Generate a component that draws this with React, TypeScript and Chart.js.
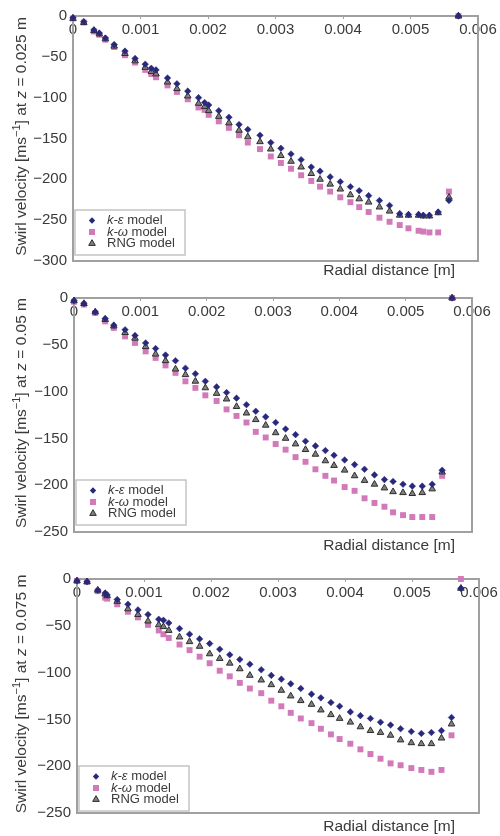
import React, { useEffect, useRef } from 'react';
import { Chart, registerables } from 'chart.js';

Chart.register(...registerables);

const FONT = "'Liberation Sans', Arial, Helvetica, sans-serif";

// ---------- Panel 1: z = 0.025 m ----------
const radial025 = [0, 0.00016, 0.00031, 0.00039, 0.00048, 0.00061, 0.00077, 0.00092, 0.00107, 0.00116, 0.00123, 0.0014, 0.00154, 0.0017, 0.00186, 0.00195, 0.00201, 0.00216, 0.00231, 0.00246, 0.00259, 0.00277, 0.00293, 0.00308, 0.00323, 0.00338, 0.00353, 0.00366, 0.00381, 0.00396, 0.00411, 0.00424, 0.00438, 0.00454, 0.00469, 0.00484, 0.00497, 0.00512, 0.00519, 0.00528, 0.00541, 0.00557, 0.00571];
const kEps025 = [-2, -7, -17, -21, -27, -35, -43, -52, -59, -64, -66, -76, -83, -92, -100, -106, -109, -116, -124, -133, -139, -146, -155, -162, -169, -176, -185, -190, -197, -203, -209, -214, -220, -226, -232, -242, -243, -243, -244, -244, -240, -226, 0];
const kOmega025 = [-3, -8, -19, -23, -29, -38, -48, -57, -66, -71, -75, -85, -93, -102, -112, -115, -121, -129, -137, -146, -155, -163, -172, -180, -187, -195, -202, -209, -215, -222, -228, -234, -240, -247, -252, -256, -260, -263, -264, -265, -265, -215, 0];
const rng025 = [-3, -8, -18, -22, -28, -37, -46, -55, -63, -68, -71, -81, -89, -98, -107, -111, -116, -123, -131, -140, -148, -154, -163, -171, -178, -185, -193, -200, -206, -212, -219, -224, -228, -234, -239, -244, -244, -244, -245, -245, -241, -222, 0];

// ---------- Panel 2: z = 0.05 m ----------
const radial050 = [0, 0.00015, 0.00032, 0.00047, 0.0006, 0.00077, 0.00092, 0.00108, 0.00123, 0.00138, 0.00153, 0.00168, 0.00183, 0.00198, 0.00215, 0.0023, 0.00245, 0.0026, 0.00274, 0.00289, 0.00304, 0.00319, 0.00334, 0.00349, 0.00364, 0.00379, 0.00392, 0.00408, 0.00423, 0.00438, 0.00453, 0.00468, 0.00481, 0.00496, 0.0051, 0.00525, 0.0054, 0.00555, 0.0057];
const kEps050 = [-3, -6, -15, -22, -29, -34, -40, -48, -54, -61, -67, -75, -81, -89, -95, -101, -107, -114, -121, -127, -133, -140, -146, -153, -158, -163, -168, -173, -178, -183, -189, -194, -196, -199, -201, -201, -199, -184, 0];
const kOmega050 = [-4, -7, -16, -25, -32, -41, -48, -57, -64, -72, -80, -89, -96, -104, -110, -119, -126, -133, -143, -149, -156, -162, -170, -175, -183, -190, -195, -202, -206, -214, -219, -223, -229, -232, -234, -234, -234, -190, 0];
const rng050 = [-3, -6, -15, -23, -30, -37, -43, -52, -60, -67, -76, -82, -89, -96, -102, -108, -116, -123, -130, -136, -144, -150, -156, -162, -167, -174, -179, -184, -190, -195, -199, -203, -207, -208, -209, -208, -204, -186, 0];

// ---------- Panel 3: z = 0.075 m ----------
const radial075 = [0, 0.00015, 0.00031, 0.00042, 0.00045, 0.0006, 0.00076, 0.00091, 0.00106, 0.00122, 0.00129, 0.00137, 0.00153, 0.00168, 0.00183, 0.00198, 0.00213, 0.00228, 0.00243, 0.00258, 0.00275, 0.0029, 0.00305, 0.00319, 0.00334, 0.0035, 0.00364, 0.00379, 0.00392, 0.00408, 0.00423, 0.00438, 0.00453, 0.00468, 0.00483, 0.00499, 0.00514, 0.00529, 0.00544, 0.00559, 0.00573];
const kEps075 = [-2, -3, -12, -15, -17, -22, -27, -33, -38, -43, -44, -47, -53, -59, -64, -69, -75, -81, -86, -91, -97, -103, -107, -112, -117, -123, -127, -132, -136, -142, -146, -149, -153, -156, -160, -163, -165, -164, -162, -148, -10];
const kOmega075 = [-2, -3, -13, -20, -21, -27, -35, -41, -49, -55, -59, -63, -70, -76, -83, -90, -98, -104, -111, -117, -122, -130, -136, -143, -149, -154, -160, -166, -171, -176, -182, -187, -192, -197, -199, -202, -204, -206, -204, -167, 0];
const rng075 = [-2, -3, -12, -16, -18, -24, -32, -38, -45, -49, -51, -55, -62, -67, -72, -80, -85, -90, -96, -103, -108, -113, -119, -125, -130, -134, -140, -145, -149, -153, -158, -162, -164, -167, -172, -175, -176, -176, -170, -155, -10];

// ---------- Text ----------
const xTickLabels = ['0', '0.001', '0.002', '0.003', '0.004', '0.005', '0.006'];
const seriesNames = ['k-ε model', 'k-ω model', 'RNG model'];
const zValues = ['0.025', '0.05', '0.075'];
const xTitle = 'Radial distance [m]';

const COLORS = {
  eps: '#28287c',
  omega: '#d27ab9',
  rngFill: '#808080',
  rngBorder: '#2c2c2c',
  frame: '#a0a0a0',
  text: '#3a3a3a',
};

type Part = { t: string; s?: 'i' | 'sup' };

function partFont(p: Part, size: number) {
  if (p.s === 'i') return `italic ${size}px ${FONT}`;
  if (p.s === 'sup') return `${Math.round(size * 0.68)}px ${FONT}`;
  return `${size}px ${FONT}`;
}

function drawParts(ctx: CanvasRenderingContext2D, parts: Part[], x: number, y: number, size: number, align: 'left' | 'center' | 'right') {
  let w = 0;
  parts.forEach((p) => {
    ctx.font = partFont(p, size);
    w += ctx.measureText(p.t).width;
  });
  let cx = align === 'left' ? x : align === 'center' ? x - w / 2 : x - w;
  ctx.textAlign = 'left';
  parts.forEach((p) => {
    ctx.font = partFont(p, size);
    const dy = p.s === 'sup' ? -size * 0.33 : 0;
    ctx.fillText(p.t, cx, y + dy);
    cx += ctx.measureText(p.t).width;
  });
}

function legendParts(name: string): Part[] {
  const idx = name.indexOf(' model');
  const head = name.slice(0, idx);
  if (head.startsWith('k')) return [{ t: head, s: 'i' }, { t: name.slice(idx) }];
  return [{ t: name }];
}

function drawMarker(ctx: CanvasRenderingContext2D, kind: number, x: number, y: number) {
  ctx.save();
  ctx.beginPath();
  if (kind === 0) {
    const r = 3.2;
    ctx.moveTo(x, y - r);
    ctx.lineTo(x + r, y);
    ctx.lineTo(x, y + r);
    ctx.lineTo(x - r, y);
    ctx.closePath();
    ctx.fillStyle = COLORS.eps;
    ctx.fill();
  } else if (kind === 1) {
    ctx.rect(x - 3, y - 3, 6, 6);
    ctx.fillStyle = COLORS.omega;
    ctx.fill();
  } else {
    const r = 3.8;
    ctx.moveTo(x, y - r);
    ctx.lineTo(x + r * 0.866, y + r * 0.5);
    ctx.lineTo(x - r * 0.866, y + r * 0.5);
    ctx.closePath();
    ctx.fillStyle = COLORS.rngFill;
    ctx.fill();
    ctx.lineWidth = 1;
    ctx.strokeStyle = COLORS.rngBorder;
    ctx.stroke();
  }
  ctx.restore();
}

type PanelCfg = {
  top: number;
  height: number;
  left: number;
  padTop: number;
  padRight: number;
  padBottom: number;
  yMin: number;
  xs: number[];
  eps: number[];
  omega: number[];
  rng: number[];
  z: string;
  xTitleDy: number;
  legendDy: number;
};

const panels: PanelCfg[] = [
  { top: 0, height: 283, left: 73, padTop: 16, padRight: 22, padBottom: 22, yMin: -300, xs: radial025, eps: kEps025, omega: kOmega025, rng: rng025, z: zValues[0], xTitleDy: 10, legendDy: 6 },
  { top: 283, height: 272, left: 74, padTop: 12, padRight: 28, padBottom: 23, yMin: -250, xs: radial050, eps: kEps050, omega: kOmega050, rng: rng050, z: zValues[1], xTitleDy: 14, legendDy: 7 },
  { top: 555, height: 281, left: 77, padTop: 24, padRight: 21, padBottom: 23, yMin: -250, xs: radial075, eps: kEps075, omega: kOmega075, rng: rng075, z: zValues[2], xTitleDy: 14, legendDy: 2 },
];

function Panel({ cfg }: { cfg: PanelCfg }) {
  const ref = useRef<HTMLCanvasElement>(null);

  useEffect(() => {
    const canvas = ref.current;
    if (!canvas) return;
    const toPts = (ys: number[]) => cfg.xs.map((x, i) => ({ x, y: ys[i] }));

    const decor = {
      id: 'decor',
      beforeDatasetsDraw(chart: any) {
        const { ctx, chartArea: a } = chart;
        ctx.save();
        ctx.strokeStyle = COLORS.frame;
        ctx.lineWidth = 2;
        ctx.strokeRect(a.left, a.top, a.right - a.left, a.bottom - a.top);
        ctx.restore();
      },
      afterDraw(chart: any) {
        const { ctx, chartArea: a } = chart;
        ctx.save();
        ctx.fillStyle = COLORS.text;
        ctx.textBaseline = 'middle';

        // y axis title (rotated)
        ctx.save();
        ctx.translate(22, (a.top + a.bottom) / 2 - 2);
        ctx.rotate(-Math.PI / 2);
        drawParts(ctx, [
          { t: 'Swirl velocity [ms' },
          { t: '\u22121', s: 'sup' },
          { t: '] at ' },
          { t: 'z', s: 'i' },
          { t: ' = ' + cfg.z + ' m' },
        ], 0, 0, 15.5, 'center');
        ctx.restore();

        // x axis title
        drawParts(ctx, [{ t: xTitle }], 455, a.bottom + cfg.xTitleDy, 15.5, 'right');

        // legend box
        const bw = 110, bh = 45;
        const bx = a.left + 2;
        const by = a.bottom - cfg.legendDy - bh;
        ctx.fillStyle = '#ffffff';
        ctx.fillRect(bx, by, bw, bh);
        ctx.strokeStyle = '#c4c4c4';
        ctx.lineWidth = 1.5;
        ctx.strokeRect(bx, by, bw, bh);
        const rows = [by + 10.5, by + 22, by + 33.5];
        seriesNames.forEach((name, i) => {
          drawMarker(ctx, i, bx + 17, rows[i]);
          ctx.fillStyle = COLORS.text;
          drawParts(ctx, legendParts(name), bx + 32, rows[i], 13, 'left');
        });
        ctx.restore();
      },
    };

    const chart = new Chart(canvas, {
      type: 'scatter',
      data: {
        datasets: [
          {
            label: seriesNames[0],
            data: toPts(cfg.eps),
            pointStyle: 'rectRot',
            pointRadius: 3.3,
            backgroundColor: COLORS.eps,
            borderColor: COLORS.eps,
            borderWidth: 0.5,
            clip: false,
          },
          {
            label: seriesNames[2],
            data: toPts(cfg.rng),
            pointStyle: 'triangle',
            pointRadius: 3.8,
            backgroundColor: COLORS.rngFill,
            borderColor: COLORS.rngBorder,
            borderWidth: 1,
            clip: false,
          },
          {
            label: seriesNames[1],
            data: toPts(cfg.omega),
            pointStyle: 'rect',
            pointRadius: 4.2,
            backgroundColor: COLORS.omega,
            borderColor: COLORS.omega,
            borderWidth: 0,
            clip: false,
          },
        ],
      },
      options: {
        animation: false,
        responsive: false,
        devicePixelRatio: 1,
        layout: { padding: { left: 0, top: cfg.padTop, right: cfg.padRight, bottom: cfg.padBottom } },
        plugins: { legend: { display: false }, tooltip: { enabled: false } },
        scales: {
          x: {
            type: 'linear',
            position: { y: 0 } as any,
            min: 0,
            max: 0.006,
            ticks: {
              stepSize: 0.001,
              padding: 2,
              color: COLORS.text,
              font: { family: FONT, size: 15 },
              maxRotation: 0,
              autoSkip: false,
              callback: (v: any) => xTickLabels[Math.round(Number(v) / 0.001)] ?? '',
            },
            grid: { display: true, drawOnChartArea: false, drawTicks: true, tickLength: 3, color: '#a0a0a0' },
            border: { display: false },
          },
          y: {
            type: 'linear',
            position: 'left',
            min: cfg.yMin,
            max: 0,
            ticks: {
              stepSize: 50,
              padding: 6,
              color: COLORS.text,
              font: { family: FONT, size: 15 },
              callback: (v: any) => (Number(v) === 0 ? '0' : '\u2212' + Math.abs(Number(v))),
            },
            grid: { display: false, drawTicks: false },
            border: { display: false },
            afterFit: (s: any) => {
              s.width = cfg.left;
            },
          },
        },
      },
      plugins: [decor],
    } as any);

    return () => chart.destroy();
  }, [cfg]);

  return (
    <canvas
      ref={ref}
      width={500}
      height={cfg.height}
      style={{ position: 'absolute', left: 0, top: cfg.top, width: 500, height: cfg.height, display: 'block' }}
    />
  );
}

export default function App() {
  return (
    <div style={{ position: 'absolute', left: 0, top: 0, width: 500, height: 836, background: '#ffffff', overflow: 'hidden' }}>
      {panels.map((p, i) => (
        <Panel key={i} cfg={p} />
      ))}
    </div>
  );
}
